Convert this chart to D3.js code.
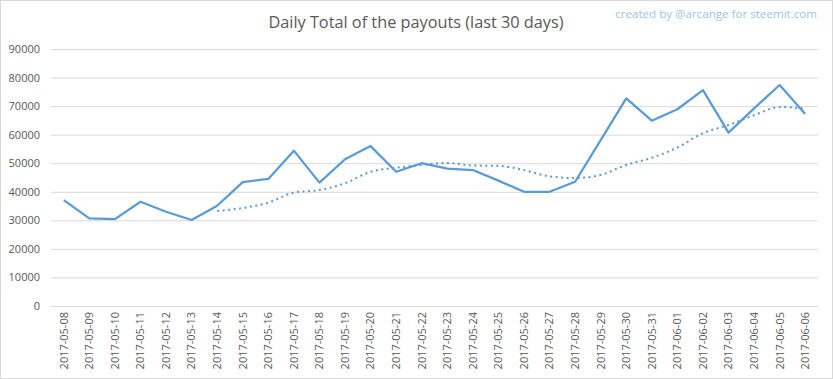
<!DOCTYPE html>
<html><head><meta charset="utf-8">
<script src="https://cdn.jsdelivr.net/npm/d3@7"></script>
<style>html,body{margin:0;padding:0;background:#fff;}</style>
</head><body>
<svg id="c" width="833" height="379"></svg>
<script>
const dates = ["2017-05-08","2017-05-09","2017-05-10","2017-05-11","2017-05-12","2017-05-13","2017-05-14","2017-05-15","2017-05-16","2017-05-17","2017-05-18","2017-05-19","2017-05-20","2017-05-21","2017-05-22","2017-05-23","2017-05-24","2017-05-25","2017-05-26","2017-05-27","2017-05-28","2017-05-29","2017-05-30","2017-05-31","2017-06-01","2017-06-02","2017-06-03","2017-06-04","2017-06-05","2017-06-06"];
const payouts = [37100,30700,30400,36500,33000,30100,35100,43400,44500,54400,43200,51400,56000,47000,50000,48100,47600,43900,40000,40000,43500,58100,72700,64900,68900,75600,60700,69200,77400,67200];
const trend = [null,null,null,null,null,null,33300,34300,36200,39700,40600,43000,47000,48400,49400,50100,49200,49100,47600,45400,44800,45900,49400,51900,55500,60500,63400,66800,69700,69100];
const yTicks = [0,10000,20000,30000,40000,50000,60000,70000,80000,90000];
const title = "Daily Total of the payouts (last 30 days)";
const credit = "created by @arcange for steemit.com";

const svg = d3.select("#c");
const W = 833, H = 379;
const m = {left:51, right:15, top:49, bottom:73};
const font = "'Open Sans', 'Liberation Sans', sans-serif";

svg.append("rect").attr("x",0.5).attr("y",0.5).attr("width",W-1).attr("height",H-1)
  .attr("fill","#fff").attr("stroke","#d9d9d9");

const x = d3.scaleBand().domain(dates).range([m.left, W-m.right]).paddingInner(0).paddingOuter(0);
const y = d3.scaleLinear().domain([0,90000]).range([H-m.bottom, m.top]);

// grid
const yAxis = d3.axisLeft(y).tickValues(yTicks).tickSize(-(W-m.left-m.right)).tickFormat(d3.format("d"));
const gy = svg.append("g").attr("transform",`translate(${m.left},0)`).call(yAxis);
gy.select(".domain").remove();
gy.selectAll("line").attr("stroke","#d9d9d9").attr("stroke-width",1);
gy.selectAll("text").attr("x",-11).attr("fill","#595959").style("font-family",font).style("font-size","11px");

const xAxis = d3.axisBottom(x).tickSize(0);
const gx = svg.append("g").attr("transform",`translate(0,${H-m.bottom})`).call(xAxis);
gx.select(".domain").attr("stroke","#d9d9d9");
gx.selectAll("text").attr("transform","rotate(-90)").attr("text-anchor","end")
  .attr("x",-6).attr("y",0).attr("dy","0.35em")
  .attr("fill","#595959").style("font-family",font).style("font-size","11px");

const cx = d => x(d) + x.bandwidth()/2;
const line = d3.line().x((d,i)=>cx(dates[i])).y(d=>y(d));
svg.append("path").datum(payouts).attr("d",line)
  .attr("fill","none").attr("stroke","#5b9bd5").attr("stroke-width",2.25).attr("stroke-linejoin","round");

const tline = d3.line().defined(d=>d!==null).x((d,i)=>cx(dates[i])).y(d=>y(d)).curve(d3.curveMonotoneX);
svg.append("path").datum(trend).attr("d",tline)
  .attr("fill","none").attr("stroke","#5b9bd5").attr("stroke-width",2).attr("stroke-dasharray","2,3.5");

svg.append("text").attr("x",416).attr("y",28).attr("text-anchor","middle")
  .attr("fill","#595959").style("font-family",font).style("font-size","16.3px").text(title);
svg.append("text").attr("x",817).attr("y",18).attr("text-anchor","end")
  .attr("fill","#9dc3e6").style("font-family",font).style("font-size","11.6px").text(credit);
</script>
</body></html>
